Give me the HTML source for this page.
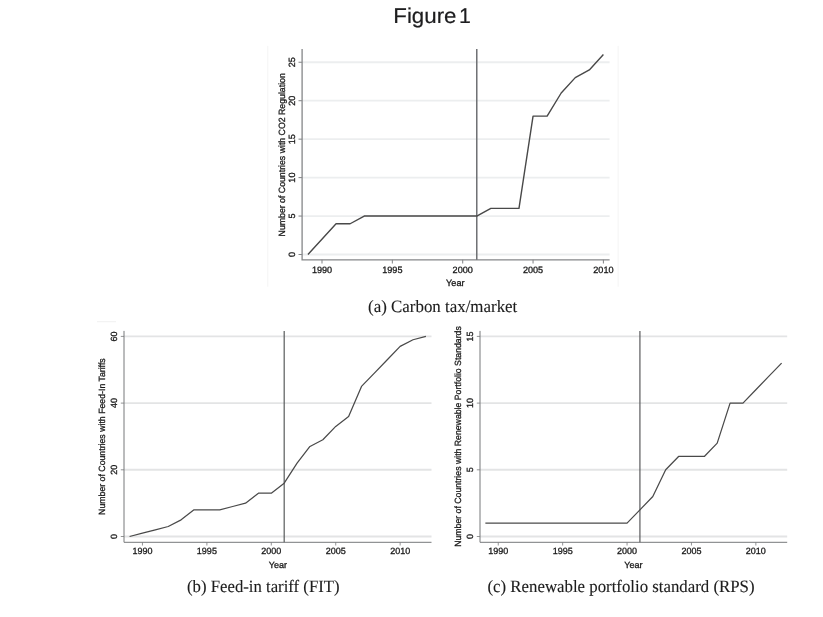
<!DOCTYPE html>
<html lang="en">
<head>
<meta charset="utf-8">
<title>Figure 1</title>
<style>
html,body{margin:0;padding:0;background:#ffffff;}
body{width:823px;height:617px;overflow:hidden;position:relative;font-family:'Liberation Sans', Arial, Helvetica, sans-serif;}
svg{position:absolute;left:0;top:0;display:block;}
svg text{text-rendering:geometricPrecision;font-family:'Liberation Sans', Arial, Helvetica, sans-serif;}
svg text.cap{font-family:'Liberation Serif', 'Times New Roman', Times, serif;}
svg g.plot text{stroke:#1a1a1a;stroke-width:0.3px;}
svg g.caps text{stroke:#1c1c1c;stroke-width:0.12px;}
</style>
</head>
<body>
<svg width="823" height="617" viewBox="0 0 823 617">
<defs>
<filter id="soft" x="-2%" y="-2%" width="104%" height="104%"><feGaussianBlur stdDeviation="0.7"/></filter>
<filter id="soft2" x="-2%" y="-20%" width="104%" height="140%"><feGaussianBlur stdDeviation="0.35"/></filter>
</defs>
<rect x="0" y="0" width="823" height="617" fill="#ffffff"/>
<text y="23.3" font-size="21.3" fill="#1d1d1f" stroke="#1d1d1f" stroke-width="0.2"><tspan x="393.3" textLength="63.2" lengthAdjust="spacingAndGlyphs">Figure</tspan> <tspan x="458.9">1</tspan></text>
<g class="plot" filter="url(#soft)">
<!-- faint frame of panel (a) -->
<path d="M267.8,45.8 V286.8 M618.1,45.8 V286.8" fill="none" stroke="#f4f4f4" stroke-width="1"/>
<!-- panel (a) -->
<line x1="302.10" x2="609.60" y1="254.50" y2="254.50" stroke="#eceeef" stroke-width="1.8"/>
<line x1="302.10" x2="609.60" y1="216.05" y2="216.05" stroke="#eceeef" stroke-width="1.8"/>
<line x1="302.10" x2="609.60" y1="177.60" y2="177.60" stroke="#eceeef" stroke-width="1.8"/>
<line x1="302.10" x2="609.60" y1="139.15" y2="139.15" stroke="#eceeef" stroke-width="1.8"/>
<line x1="302.10" x2="609.60" y1="100.70" y2="100.70" stroke="#eceeef" stroke-width="1.8"/>
<line x1="302.10" x2="609.60" y1="62.25" y2="62.25" stroke="#eceeef" stroke-width="1.8"/>
<path d="M302.10,49.10 V259.80 H609.60" fill="none" stroke="#858789" stroke-width="1.3"/>
<line x1="298.50" x2="302.10" y1="254.50" y2="254.50" stroke="#858789" stroke-width="1.04"/>
<line x1="298.50" x2="302.10" y1="216.05" y2="216.05" stroke="#858789" stroke-width="1.04"/>
<line x1="298.50" x2="302.10" y1="177.60" y2="177.60" stroke="#858789" stroke-width="1.04"/>
<line x1="298.50" x2="302.10" y1="139.15" y2="139.15" stroke="#858789" stroke-width="1.04"/>
<line x1="298.50" x2="302.10" y1="100.70" y2="100.70" stroke="#858789" stroke-width="1.04"/>
<line x1="298.50" x2="302.10" y1="62.25" y2="62.25" stroke="#858789" stroke-width="1.04"/>
<line x1="322.00" x2="322.00" y1="259.80" y2="263.40" stroke="#858789" stroke-width="1.04"/>
<line x1="392.35" x2="392.35" y1="259.80" y2="263.40" stroke="#858789" stroke-width="1.04"/>
<line x1="462.70" x2="462.70" y1="259.80" y2="263.40" stroke="#858789" stroke-width="1.04"/>
<line x1="533.05" x2="533.05" y1="259.80" y2="263.40" stroke="#858789" stroke-width="1.04"/>
<line x1="603.40" x2="603.40" y1="259.80" y2="263.40" stroke="#858789" stroke-width="1.04"/>
<line x1="476.77" x2="476.77" y1="49.10" y2="259.80" stroke="#6e7073" stroke-width="1.5"/>
<polyline points="307.93,254.50 336.07,223.74 350.14,223.74 364.21,216.05 476.77,216.05 490.84,208.36 518.98,208.36 533.05,116.08 547.12,116.08 561.19,93.01 575.26,77.63 589.33,69.94 603.40,54.56" fill="none" stroke="#484848" stroke-width="1.4" stroke-linejoin="round"/>
<text transform="translate(295.20,254.50) rotate(-90)" text-anchor="middle" font-size="9.1" fill="#1a1a1a">0</text>
<text transform="translate(295.20,216.05) rotate(-90)" text-anchor="middle" font-size="9.1" fill="#1a1a1a">5</text>
<text transform="translate(295.20,177.60) rotate(-90)" text-anchor="middle" font-size="9.1" fill="#1a1a1a">10</text>
<text transform="translate(295.20,139.15) rotate(-90)" text-anchor="middle" font-size="9.1" fill="#1a1a1a">15</text>
<text transform="translate(295.20,100.70) rotate(-90)" text-anchor="middle" font-size="9.1" fill="#1a1a1a">20</text>
<text transform="translate(295.20,62.25) rotate(-90)" text-anchor="middle" font-size="9.1" fill="#1a1a1a">25</text>
<text x="322.00" y="272.60" text-anchor="middle" font-size="9.1" fill="#1a1a1a">1990</text>
<text x="392.35" y="272.60" text-anchor="middle" font-size="9.1" fill="#1a1a1a">1995</text>
<text x="462.70" y="272.60" text-anchor="middle" font-size="9.1" fill="#1a1a1a">2000</text>
<text x="533.05" y="272.60" text-anchor="middle" font-size="9.1" fill="#1a1a1a">2005</text>
<text x="603.40" y="272.60" text-anchor="middle" font-size="9.1" fill="#1a1a1a">2010</text>
<text x="455.30" y="286.20" text-anchor="middle" font-size="9.1" fill="#1a1a1a">Year</text>
<text transform="translate(285.40,154.80) rotate(-90)" text-anchor="middle" font-size="9.1" fill="#1a1a1a" textLength="163.2" lengthAdjust="spacingAndGlyphs">Number of Countries with CO2 Regulation</text>
<!-- panel (b) -->
<line x1="97" x2="116" y1="321.7" y2="321.7" stroke="#f0f0f0" stroke-width="1"/>
<line x1="124.00" x2="431.50" y1="536.50" y2="536.50" stroke="#e3e4e5" stroke-width="1.9"/>
<line x1="124.00" x2="431.50" y1="469.80" y2="469.80" stroke="#e3e4e5" stroke-width="1.9"/>
<line x1="124.00" x2="431.50" y1="403.10" y2="403.10" stroke="#e3e4e5" stroke-width="1.9"/>
<line x1="124.00" x2="431.50" y1="336.40" y2="336.40" stroke="#e3e4e5" stroke-width="1.9"/>
<path d="M124.00,330.90 V542.30 H431.50" fill="none" stroke="#77797b" stroke-width="1.0"/>
<line x1="120.80" x2="124.00" y1="536.50" y2="536.50" stroke="#77797b" stroke-width="0.80"/>
<line x1="120.80" x2="124.00" y1="469.80" y2="469.80" stroke="#77797b" stroke-width="0.80"/>
<line x1="120.80" x2="124.00" y1="403.10" y2="403.10" stroke="#77797b" stroke-width="0.80"/>
<line x1="120.80" x2="124.00" y1="336.40" y2="336.40" stroke="#77797b" stroke-width="0.80"/>
<line x1="142.45" x2="142.45" y1="542.30" y2="545.50" stroke="#77797b" stroke-width="0.80"/>
<line x1="206.88" x2="206.88" y1="542.30" y2="545.50" stroke="#77797b" stroke-width="0.80"/>
<line x1="271.30" x2="271.30" y1="542.30" y2="545.50" stroke="#77797b" stroke-width="0.80"/>
<line x1="335.73" x2="335.73" y1="542.30" y2="545.50" stroke="#77797b" stroke-width="0.80"/>
<line x1="400.15" x2="400.15" y1="542.30" y2="545.50" stroke="#77797b" stroke-width="0.80"/>
<line x1="284.18" x2="284.18" y1="330.90" y2="542.30" stroke="#525456" stroke-width="1.15"/>
<polyline points="129.56,536.50 142.45,533.16 155.33,529.83 168.22,526.50 181.10,519.83 193.99,509.82 206.88,509.82 219.76,509.82 232.64,506.49 245.53,503.15 258.41,493.14 271.30,493.14 284.18,483.14 297.07,463.13 309.95,446.45 322.84,439.78 335.73,426.44 348.61,416.44 361.50,386.43 374.38,373.09 387.26,359.75 400.15,346.40 413.03,339.74 425.92,336.40" fill="none" stroke="#4a4a4a" stroke-width="1.25" stroke-linejoin="round"/>
<text transform="translate(117.40,536.50) rotate(-90)" text-anchor="middle" font-size="9.0" fill="#1a1a1a">0</text>
<text transform="translate(117.40,469.80) rotate(-90)" text-anchor="middle" font-size="9.0" fill="#1a1a1a">20</text>
<text transform="translate(117.40,403.10) rotate(-90)" text-anchor="middle" font-size="9.0" fill="#1a1a1a">40</text>
<text transform="translate(117.40,336.40) rotate(-90)" text-anchor="middle" font-size="9.0" fill="#1a1a1a">60</text>
<text x="142.45" y="554.30" text-anchor="middle" font-size="9.0" fill="#1a1a1a">1990</text>
<text x="206.88" y="554.30" text-anchor="middle" font-size="9.0" fill="#1a1a1a">1995</text>
<text x="271.30" y="554.30" text-anchor="middle" font-size="9.0" fill="#1a1a1a">2000</text>
<text x="335.73" y="554.30" text-anchor="middle" font-size="9.0" fill="#1a1a1a">2005</text>
<text x="400.15" y="554.30" text-anchor="middle" font-size="9.0" fill="#1a1a1a">2010</text>
<text x="277.80" y="568.30" text-anchor="middle" font-size="9.0" fill="#1a1a1a">Year</text>
<text transform="translate(105.10,436.60) rotate(-90)" text-anchor="middle" font-size="9.0" fill="#1a1a1a" textLength="156.6" lengthAdjust="spacingAndGlyphs">Number of Countries with Feed-In Tariffs</text>
<!-- panel (c) -->
<line x1="480.00" x2="787.20" y1="536.50" y2="536.50" stroke="#e3e4e5" stroke-width="1.9"/>
<line x1="480.00" x2="787.20" y1="469.80" y2="469.80" stroke="#e3e4e5" stroke-width="1.9"/>
<line x1="480.00" x2="787.20" y1="403.10" y2="403.10" stroke="#e3e4e5" stroke-width="1.9"/>
<line x1="480.00" x2="787.20" y1="336.40" y2="336.40" stroke="#e3e4e5" stroke-width="1.9"/>
<path d="M480.00,330.90 V542.30 H787.20" fill="none" stroke="#77797b" stroke-width="1.0"/>
<line x1="476.80" x2="480.00" y1="536.50" y2="536.50" stroke="#77797b" stroke-width="0.80"/>
<line x1="476.80" x2="480.00" y1="469.80" y2="469.80" stroke="#77797b" stroke-width="0.80"/>
<line x1="476.80" x2="480.00" y1="403.10" y2="403.10" stroke="#77797b" stroke-width="0.80"/>
<line x1="476.80" x2="480.00" y1="336.40" y2="336.40" stroke="#77797b" stroke-width="0.80"/>
<line x1="498.25" x2="498.25" y1="542.30" y2="545.50" stroke="#77797b" stroke-width="0.80"/>
<line x1="562.65" x2="562.65" y1="542.30" y2="545.50" stroke="#77797b" stroke-width="0.80"/>
<line x1="627.05" x2="627.05" y1="542.30" y2="545.50" stroke="#77797b" stroke-width="0.80"/>
<line x1="691.45" x2="691.45" y1="542.30" y2="545.50" stroke="#77797b" stroke-width="0.80"/>
<line x1="755.85" x2="755.85" y1="542.30" y2="545.50" stroke="#77797b" stroke-width="0.80"/>
<line x1="639.93" x2="639.93" y1="330.90" y2="542.30" stroke="#525456" stroke-width="1.15"/>
<polyline points="485.37,523.16 627.05,523.16 639.93,509.82 652.81,496.48 665.69,469.80 678.57,456.46 691.45,456.46 704.33,456.46 717.21,443.12 730.09,403.10 742.97,403.10 755.85,389.76 768.73,376.42 781.61,363.08" fill="none" stroke="#4a4a4a" stroke-width="1.25" stroke-linejoin="round"/>
<text transform="translate(473.00,536.50) rotate(-90)" text-anchor="middle" font-size="9.0" fill="#1a1a1a">0</text>
<text transform="translate(473.00,469.80) rotate(-90)" text-anchor="middle" font-size="9.0" fill="#1a1a1a">5</text>
<text transform="translate(473.00,403.10) rotate(-90)" text-anchor="middle" font-size="9.0" fill="#1a1a1a">10</text>
<text transform="translate(473.00,336.40) rotate(-90)" text-anchor="middle" font-size="9.0" fill="#1a1a1a">15</text>
<text x="498.25" y="554.30" text-anchor="middle" font-size="9.0" fill="#1a1a1a">1990</text>
<text x="562.65" y="554.30" text-anchor="middle" font-size="9.0" fill="#1a1a1a">1995</text>
<text x="627.05" y="554.30" text-anchor="middle" font-size="9.0" fill="#1a1a1a">2000</text>
<text x="691.45" y="554.30" text-anchor="middle" font-size="9.0" fill="#1a1a1a">2005</text>
<text x="755.85" y="554.30" text-anchor="middle" font-size="9.0" fill="#1a1a1a">2010</text>
<text x="633.40" y="568.30" text-anchor="middle" font-size="9.0" fill="#1a1a1a">Year</text>
<text transform="translate(460.90,436.50) rotate(-90)" text-anchor="middle" font-size="9.0" fill="#1a1a1a" textLength="220.6" lengthAdjust="spacingAndGlyphs">Number of Countries with Renewable Portfolio Standards</text>
</g>
<g class="caps" filter="url(#soft2)">
<text class="cap" x="442.7" y="312.3" text-anchor="middle" font-size="17.3" fill="#1c1c1c" textLength="149.2" lengthAdjust="spacingAndGlyphs">(a) Carbon tax/market</text>
<text class="cap" x="263.3" y="592.3" text-anchor="middle" font-size="17.3" fill="#1c1c1c" textLength="152.5" lengthAdjust="spacingAndGlyphs">(b) Feed-in tariff (FIT)</text>
<text class="cap" x="621" y="592.3" text-anchor="middle" font-size="17.3" fill="#1c1c1c" textLength="267" lengthAdjust="spacingAndGlyphs">(c) Renewable portfolio standard (RPS)</text>
</g>
</svg>
</body>
</html>
